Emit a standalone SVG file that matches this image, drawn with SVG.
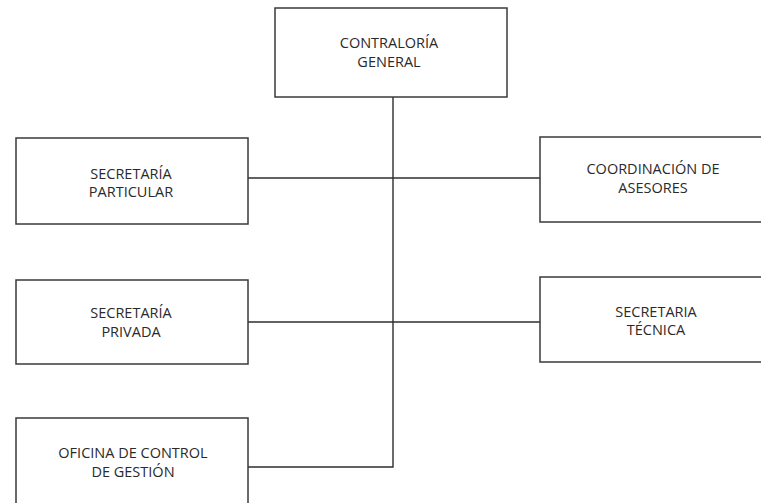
<svg xmlns="http://www.w3.org/2000/svg" width="761" height="503" viewBox="0 0 761 503">
<style>
.box{fill:#fff;stroke:#3a3a3a;stroke-width:1.5}
.ln{fill:none;stroke:#2e2e2e;stroke-width:1.4}
text{font-family:"Open Sans","Noto Sans",sans-serif;font-size:14.5px;fill:#2a2a2a;text-anchor:middle}
</style>
<rect width="761" height="503" fill="#fff"/>
<g id="connectors">
<path class="ln" d="M393 97V467H248"/>
<path class="ln" d="M248 178H540"/>
<path class="ln" d="M248 322H540"/>
</g>
<g id="contraloria">
<rect class="box" x="275" y="8" width="232" height="89"/>
<text x="389" y="48">CONTRALORÍA</text>
<text x="389" y="67">GENERAL</text>
</g>
<g id="particular">
<rect class="box" x="16" y="138" width="232" height="86"/>
<text x="131" y="179">SECRETARÍA</text>
<text x="131" y="197">PARTICULAR</text>
</g>
<g id="privada">
<rect class="box" x="16" y="280" width="232" height="84"/>
<text x="131" y="318">SECRETARÍA</text>
<text x="131" y="337">PRIVADA</text>
</g>
<g id="oficina">
<rect class="box" x="16" y="418" width="232" height="90"/>
<text x="133" y="458">OFICINA DE CONTROL</text>
<text x="133" y="477">DE GESTIÓN</text>
</g>
<g id="coordinacion">
<rect class="box" x="540" y="137" width="230" height="85"/>
<text x="653" y="174">COORDINACIÓN DE</text>
<text x="653" y="193">ASESORES</text>
</g>
<g id="tecnica">
<rect class="box" x="540" y="277" width="230" height="85"/>
<text x="656" y="317">SECRETARIA</text>
<text x="656" y="335">TÉCNICA</text>
</g>
</svg>
